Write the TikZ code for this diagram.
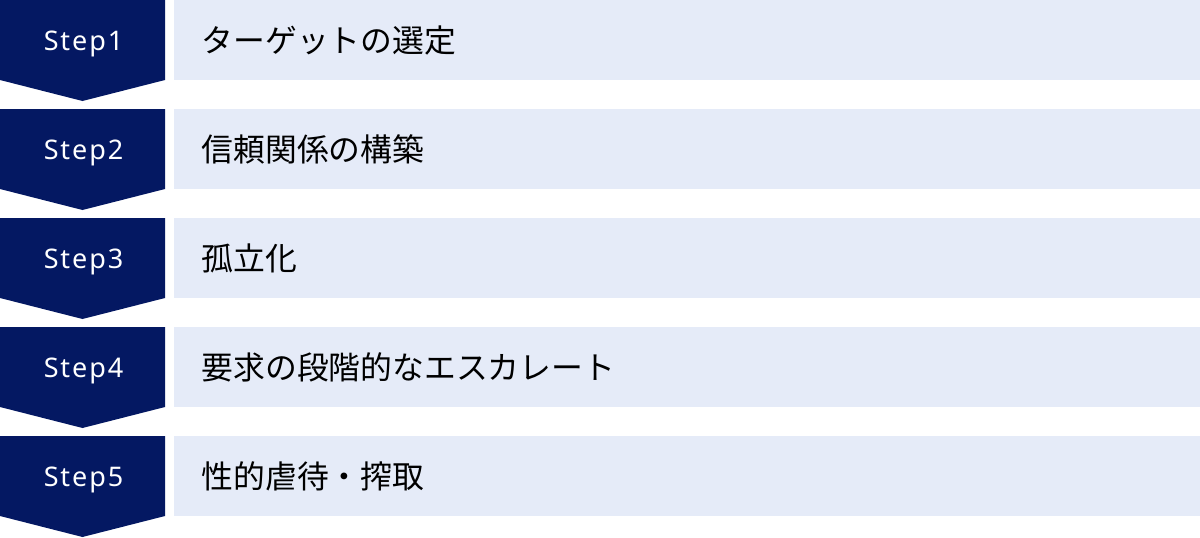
\documentclass[tikz,border=0pt]{standalone}
\usepackage{fontspec}
\setmainfont{Noto Sans}
\newfontfamily\jpfont{Noto Sans CJK JP}
\newfontfamily\stepfont[LetterSpace=7]{Noto Sans}
\definecolor{navy}{HTML}{041862}
\definecolor{barblue}{HTML}{E5EBF8}
\tikzset{
  chev/.style={fill=navy, draw=none},
  bar/.style={fill=barblue, draw=none},
  steplabel/.style={text=white, font=\stepfont\fontsize{27}{32}\selectfont, inner sep=0pt, anchor=base},
  itemlabel/.style={text=black, font=\jpfont\fontsize{31.8}{36}\selectfont, inner sep=0pt, anchor=base west},
}
\begin{document}
\begin{tikzpicture}[x=1pt,y=-1pt]
\useasboundingbox (0,0) rectangle (1200,538);
\foreach \i/\txt in {0/ターゲットの選定,1/信頼関係の構築,2/孤立化,3/要求の段階的なエスカレート,4/性的虐待・搾取}{
  \pgfmathsetmacro{\t}{109*\i}
  \pgfmathtruncatemacro{\n}{\i+1}
  \fill[chev] (0,\t) -- (165,\t) -- (165,\t+80) -- (82.5,\t+101) -- (0,\t+80) -- cycle;
  \fill[bar] (174,\t) rectangle (1200,\t+80);
  \node[steplabel] (step\n) at (83.5,\t+50.5) {Step\n};
  \node[itemlabel] (item\n) at (201.5,\t+52) {\txt};
}
\end{tikzpicture}
\end{document}
